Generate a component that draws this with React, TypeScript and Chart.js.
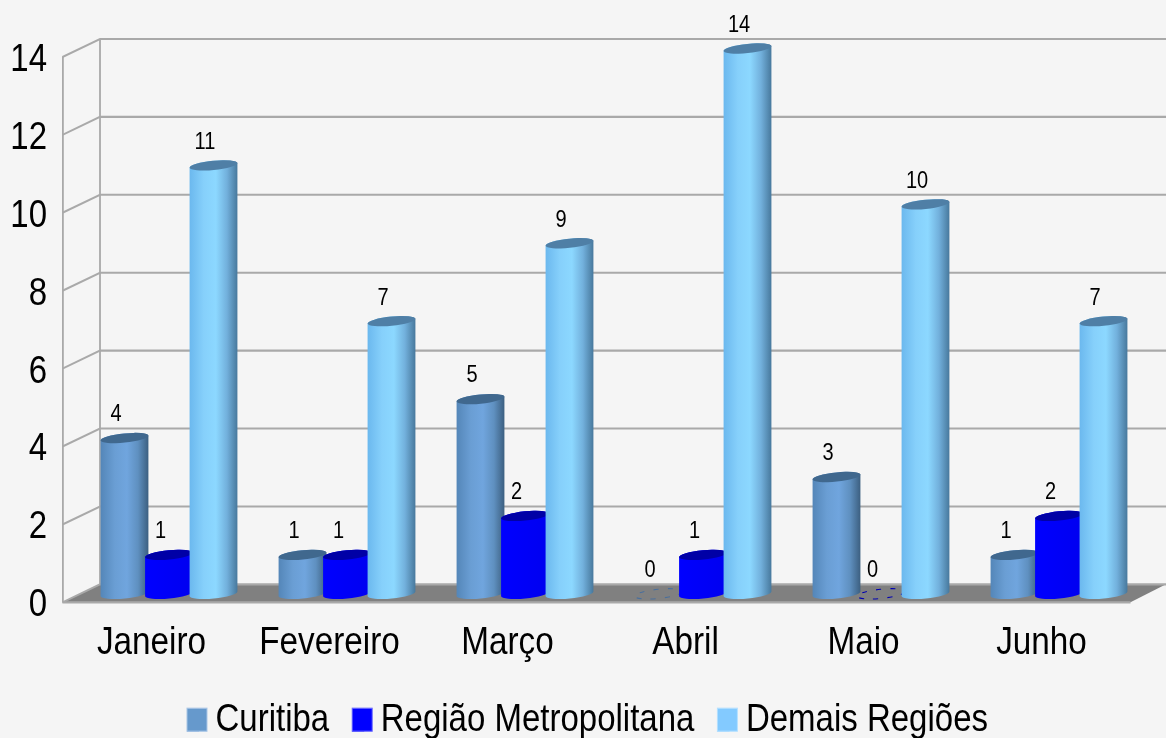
import React, { useEffect, useRef } from "react";
import { Chart, registerables } from "chart.js";

Chart.register(...registerables);

const categories = ["Janeiro", "Fevereiro", "Março", "Abril", "Maio", "Junho"];
const curitiba = [4, 1, 5, 0, 3, 1];
const regiaoMetropolitana = [1, 1, 2, 1, 0, 2];
const demaisRegioes = [11, 7, 9, 14, 10, 7];
const seriesNames = ["Curitiba", "Região Metropolitana", "Demais Regiões"];
const swatchColors = ["#6699cc", "#0000ff", "#83caff"];
const swatchBorders = ["#a9c6e6", "#6a6aff", "#b5e0ff"];
const topColors = ["#40688e", "#0000a6", "#4f7fa6"];
const zeroColors = ["#4a6f9c", "#0000b0", "#4f7fa6"];
const bodyStops: [number, string][][] = [
  [[0, "#5486b8"], [0.3, "#6a9ed4"], [0.55, "#70a5de"], [0.78, "#5f90c0"], [1, "#3c5f80"]],
  [[0, "#0000ff"], [1, "#0000f0"]],
  [[0, "#6bb8ee"], [0.3, "#86d0fb"], [0.55, "#8cd8ff"], [0.78, "#72b0dc"], [1, "#47789c"]],
];

// The reference is stretched vertically: everything is drawn through this factor.
const K = 1.15;
const FONT = "'Liberation Sans', Arial, sans-serif";
const BAR_DX = 17.5;
const BAR_DY = 8.5 / K;
const WALL_DX = 37.5;
const WALL_DY = 18 / K;
const RX_ROT = (-5 * Math.PI) / 180;
const RY = 4.6 / K;

const scene3d = {
  id: "scene3d",
  beforeDraw(chart: any) {
    const { ctx } = chart;
    ctx.save();
    ctx.scale(1, K);
    const xs = chart.scales.x;
    const ys = chart.scales.y;
    const left = xs.left;
    const right = xs.right;
    const base = ys.getPixelForValue(0);
    ctx.beginPath();
    ctx.moveTo(left, base);
    ctx.lineTo(left + WALL_DX, base - WALL_DY);
    ctx.lineTo(1166, base - WALL_DY);
    ctx.lineTo(right, base);
    ctx.closePath();
    ctx.fillStyle = "#808080";
    ctx.fill();
    ctx.strokeStyle = "#a9a9a9";
    ctx.lineWidth = 1.8;
    ys.ticks.forEach((t: any) => {
      const p = ys.getPixelForValue(t.value);
      ctx.beginPath();
      ctx.moveTo(left, p);
      ctx.lineTo(left + WALL_DX, p - WALL_DY);
      ctx.lineTo(1166, p - WALL_DY);
      ctx.stroke();
    });
    ctx.beginPath();
    ctx.moveTo(left + WALL_DX, ys.getPixelForValue(14) - WALL_DY);
    ctx.lineTo(left + WALL_DX, base - WALL_DY);
    ctx.moveTo(left, base);
    ctx.lineTo(right, base);
    ctx.stroke();
  },
  beforeDatasetDraw() {
    return false;
  },
  beforeDatasetsDraw(chart: any) {
    const { ctx } = chart;
    chart.data.datasets.forEach((ds: any, i: number) => {
      const meta = chart.getDatasetMeta(i);
      meta.data.forEach((bar: any) => {
        const cx = bar.x + BAR_DX;
        const top = bar.y - BAR_DY;
        const bottom = bar.base - BAR_DY;
        const rx = bar.width / 2;
        if (top >= bottom - 0.5) {
          ctx.save();
          ctx.strokeStyle = zeroColors[i];
          ctx.lineWidth = 1;
          ctx.setLineDash([5, 9]);
          ctx.beginPath();
          ctx.ellipse(cx, bottom, rx, RY, RX_ROT, 0, Math.PI * 2);
          ctx.stroke();
          ctx.restore();
          return;
        }
        const ox = rx * Math.cos(RX_ROT);
        const oy = rx * Math.sin(RX_ROT);
        const g = ctx.createLinearGradient(cx - rx, 0, cx + rx, 0);
        bodyStops[i].forEach(([o, c]) => g.addColorStop(o, c));
        ctx.beginPath();
        ctx.moveTo(cx - ox, top - oy);
        ctx.lineTo(cx - ox, bottom - oy);
        ctx.ellipse(cx, bottom, rx, RY, RX_ROT, Math.PI, 0, true);
        ctx.lineTo(cx + ox, top + oy);
        ctx.ellipse(cx, top, rx, RY, RX_ROT, 0, Math.PI, true);
        ctx.closePath();
        ctx.fillStyle = g;
        ctx.fill();
        ctx.beginPath();
        ctx.ellipse(cx, top, rx, RY, RX_ROT, 0, Math.PI * 2);
        ctx.fillStyle = topColors[i];
        ctx.fill();
      });
    });
  },
  afterDatasetsDraw(chart: any) {
    const { ctx } = chart;
    ctx.save();
    ctx.font = `20px ${FONT}`;
    ctx.fillStyle = "#000";
    ctx.textAlign = "center";
    ctx.textBaseline = "middle";
    chart.data.datasets.forEach((ds: any, i: number) => {
      chart.getDatasetMeta(i).data.forEach((bar: any, j: number) => {
        ctx.fillText(String(ds.data[j]), bar.x + BAR_DX - 8.5, bar.y - BAR_DY - 23 / K);
      });
    });
    ctx.restore();
  },
  afterDraw(chart: any) {
    const { ctx } = chart;
    const boxes = chart.legend.legendHitBoxes;
    boxes.forEach((b: any, i: number) => {
      const cy = b.top + b.height / 2 - 0.5;
      ctx.fillStyle = swatchColors[i];
      ctx.fillRect(b.left, cy - 10, 20, 20);
      ctx.strokeStyle = swatchBorders[i];
      ctx.lineWidth = 1;
      ctx.strokeRect(b.left, cy - 10, 20, 20);
    });
    ctx.restore();
  },
};

export default function App() {
  const ref = useRef<HTMLCanvasElement | null>(null);
  useEffect(() => {
    document.body.style.margin = "0";
    document.body.style.background = "#f5f5f5";
    const chart = new Chart(ref.current as HTMLCanvasElement, {
      type: "bar",
      data: {
        labels: categories,
        datasets: [curitiba, regiaoMetropolitana, demaisRegioes].map((data, i) => ({
          label: seriesNames[i],
          data,
          backgroundColor: swatchColors[i],
          categoryPercentage: 0.75,
          barPercentage: 48 / 44.5,
        })),
      },
      options: {
        animation: false,
        responsive: false,
        devicePixelRatio: 1,
        layout: { padding: { left: 9, right: 0, top: 57 / K, bottom: 738 - 718 / K - 28.5 } },
        plugins: {
          tooltip: { enabled: false },
          legend: {
            position: "bottom",
            labels: {
              color: "#000",
              font: { family: FONT, size: 33 },
              boxWidth: 12,
              boxHeight: 20,
              padding: 23,
            },
          },
        },
        scales: {
          x: {
            grid: { display: false, drawTicks: false },
            border: { display: false },
            ticks: {
              color: "#000",
              font: { family: FONT, size: 33.3 },
              padding: 16,
              maxRotation: 0,
              autoSkip: false,
            },
            afterFit: (s: any) => {
              s.height = (718 - 602) / K - 37.8;
            },
          },
          y: {
            min: 0,
            max: 14,
            grid: { display: false, drawTicks: false },
            border: { display: true, color: "#a9a9a9", width: 1.8 },
            ticks: {
              stepSize: 2,
              color: "#000",
              font: { family: FONT, size: 33 },
              padding: 15.5,
              labelOffset: 3,
            },
            afterFit: (s: any) => {
              s.width = 53.5;
            },
          },
          spacer: {
            type: "linear",
            position: "right",
            grid: { display: false, drawTicks: false },
            border: { display: false },
            ticks: { display: false },
            afterFit: (s: any) => {
              s.width = 35.5;
            },
          },
        },
      } as any,
      plugins: [scene3d as any],
    });
    return () => chart.destroy();
  }, []);
  return (
    <div style={{ position: "fixed", left: 0, top: 0, width: 1166, height: 738, background: "#f5f5f5" }}>
      <canvas ref={ref} width={1166} height={738} style={{ display: "block" }} />
    </div>
  );
}
